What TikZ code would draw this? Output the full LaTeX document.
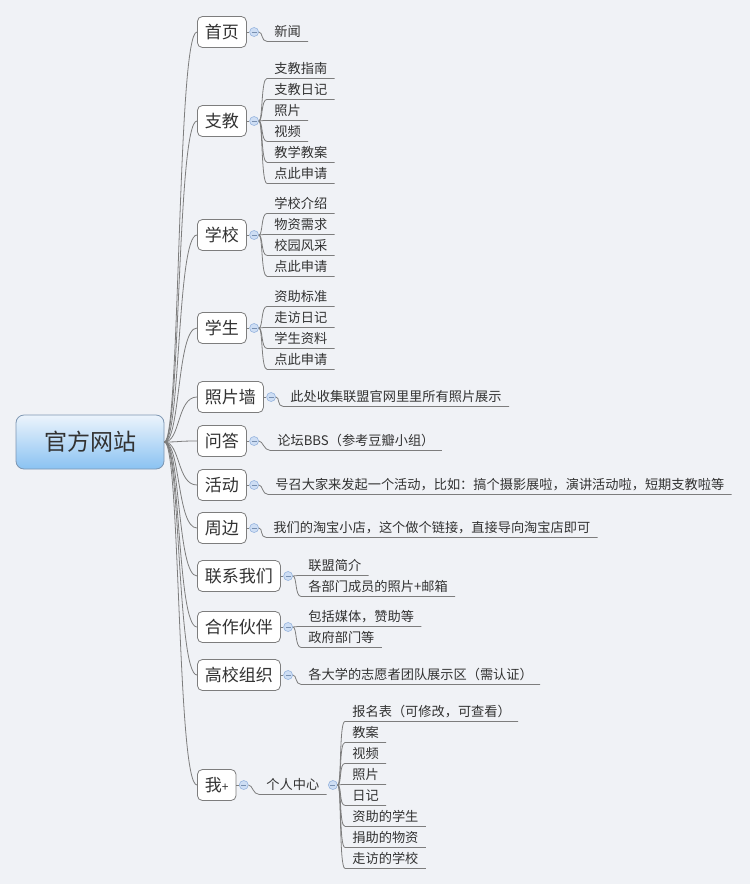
\documentclass[tikz,border=0pt]{standalone}
\usepackage{fontspec}
\setmainfont{Noto Sans CJK SC}
\usetikzlibrary{positioning,calc}

\definecolor{paper}{RGB}{240,242,246}
\definecolor{wire}{RGB}{125,125,125}
\definecolor{ink}{RGB}{50,50,50}
\definecolor{knob}{RGB}{206,222,244}
\definecolor{knobline}{RGB}{150,180,222}
\definecolor{roottop}{RGB}{236,244,252}
\definecolor{rootbot}{RGB}{138,194,242}
\definecolor{rootline}{RGB}{125,150,178}

\begin{document}
\begin{tikzpicture}[x=1pt,y=-1pt,line width=0.8pt]
   \tikzstyle{root}=[rectangle,rounded corners=8pt,draw=rootline,top color=roottop,bottom color=rootbot,minimum width=148pt,minimum height=54pt,text height=19.1pt,text depth=1.6pt,font=\fontsize{23}{23}\selectfont,text=ink]
   \tikzstyle{topic}=[rectangle,rounded corners=5pt,draw=wire,fill=white,anchor=west,minimum height=31pt,inner xsep=7.5pt,text height=14.1pt,text depth=1.1pt,font=\fontsize{17}{17}\selectfont,text=ink]
   \tikzstyle{leaf}=[anchor=west,inner xsep=7pt,inner ysep=3.15pt,text height=10.8pt,text depth=0.9pt,font=\fontsize{13.2}{13.2}\selectfont,text=ink]
   \tikzstyle{knob}=[circle,draw=knobline,fill=knob,minimum size=9pt,inner sep=0pt,line width=0.6pt,
      path picture={\draw[knobline!80!black,line width=0.6pt] ([xshift=-2.5pt]path picture bounding box.center) -- ([xshift=2.5pt]path picture bounding box.center);}]
   \tikzstyle{limb}=[draw=wire,to path={(\tikztostart.east) .. controls ($(\tikztostart.east)+(16,0)$) and ($(\tikztotarget.west)+(-20,0)$) .. (\tikztotarget.west)}]
   \tikzstyle{twig}=[draw=wire,to path={(\tikztostart.east) .. controls ($(\tikztostart.east)+(4,0)$) and ($(\tikztotarget.south west)+(-6,0)$) .. (\tikztotarget.south west) -- (\tikztotarget.south east)}]
   \tikzstyle{stub}=[draw=wire,line width=0.6pt]

   \fill[paper] (0,0) rectangle (750,884);
   \useasboundingbox (0,0) rectangle (750,884);

   \node[root] (guanwang) at (90,442) {官方网站};

   \node[topic] (shouye)   at (197,32)  {首页};
   \node[topic] (zhijiao)  at (197,121) {支教};
   \node[topic] (xuexiao)  at (197,235) {学校};
   \node[topic] (xuesheng) at (197,328) {学生};
   \node[topic] (zpq)      at (197,397) {照片墙};
   \node[topic] (wenda)    at (197,441) {问答};
   \node[topic] (huodong)  at (197,485) {活动};
   \node[topic] (zhoubian) at (197,528) {周边};
   \node[topic] (lianxi)   at (197,576) {联系我们};
   \node[topic] (hezuo)    at (197,627) {合作伙伴};
   \node[topic] (gaoxiao)  at (197,675) {高校组织};
   \node[topic] (wo)       at (197,785) {我{\fontsize{12}{12}\selectfont+}};

   \node[knob,right=2.5pt of shouye]   (k-shouye)   {};
   \node[knob,right=2.5pt of zhijiao]  (k-zhijiao)  {};
   \node[knob,right=2.5pt of xuexiao]  (k-xuexiao)  {};
   \node[knob,right=2.5pt of xuesheng] (k-xuesheng) {};
   \node[knob,right=2.5pt of zpq]      (k-zpq)      {};
   \node[knob,right=2.5pt of wenda]    (k-wenda)    {};
   \node[knob,right=2.5pt of huodong]  (k-huodong)  {};
   \node[knob,right=2.5pt of zhoubian] (k-zhoubian) {};
   \node[knob,right=2.5pt of lianxi]   (k-lianxi)   {};
   \node[knob,right=2.5pt of hezuo]    (k-hezuo)    {};
   \node[knob,right=2.5pt of gaoxiao]  (k-gaoxiao)  {};
   \node[knob,right=2.5pt of wo]       (k-wo)       {};

   % leaves
   \node[leaf] (xinwen) at (267,32) {新闻};

   \node[leaf] (zj1) at (267,69)  {支教指南};
   \node[leaf] (zj2) at (267,90)  {支教日记};
   \node[leaf] (zj3) at (267,111) {照片};
   \node[leaf] (zj4) at (267,132) {视频};
   \node[leaf] (zj5) at (267,153) {教学教案};
   \node[leaf] (zj6) at (267,174) {点此申请};

   \node[leaf] (xx1) at (267,204) {学校介绍};
   \node[leaf] (xx2) at (267,225) {物资需求};
   \node[leaf] (xx3) at (267,246) {校园风采};
   \node[leaf] (xx4) at (267,267) {点此申请};

   \node[leaf] (xs1) at (267,297) {资助标准};
   \node[leaf] (xs2) at (267,318) {走访日记};
   \node[leaf] (xs3) at (267,339) {学生资料};
   \node[leaf] (xs4) at (267,360) {点此申请};

   \node[leaf] (zpq1) at (283,397) {此处收集联盟官网里里所有照片展示};
   \node[leaf] (wd1)  at (270,441) {论坛BBS（参考豆瓣小组）};
   \node[leaf] (hd1)  at (268,485) {号召大家来发起一个活动，比如：搞个摄影展啦，演讲活动啦，短期支教啦等};
   \node[leaf] (zb1)  at (266,528) {我们的淘宝小店，这个做个链接，直接导向淘宝店即可};

   \node[leaf] (lx1) at (301,566) {联盟简介};
   \node[leaf] (lx2) at (301,587) {各部门成员的照片+邮箱};
   \node[leaf] (hz1) at (301,617) {包括媒体，赞助等};
   \node[leaf] (hz2) at (301,638) {政府部门等};
   \node[leaf] (gx1) at (301,675) {各大学的志愿者团队展示区（需认证）};

   \node[leaf] (geren) at (259,785) {个人中心};
   \node[knob,right=1.5pt of geren] (k-geren) {};
   \node[leaf] (gr1) at (345,712) {报名表（可修改，可查看）};
   \node[leaf] (gr2) at (345,733) {教案};
   \node[leaf] (gr3) at (345,754) {视频};
   \node[leaf] (gr4) at (345,775) {照片};
   \node[leaf] (gr5) at (345,796) {日记};
   \node[leaf] (gr6) at (345,817) {资助的学生};
   \node[leaf] (gr7) at (345,838) {捐助的物资};
   \node[leaf] (gr8) at (345,859) {走访的学校};

   \path
     (guanwang) edge [limb] (shouye)
     (guanwang) edge [limb] (zhijiao)
     (guanwang) edge [limb] (xuexiao)
     (guanwang) edge [limb] (xuesheng)
     (guanwang) edge [limb] (zpq)
     (guanwang) edge [limb] (wenda)
     (guanwang) edge [limb] (huodong)
     (guanwang) edge [limb] (zhoubian)
     (guanwang) edge [limb] (lianxi)
     (guanwang) edge [limb] (hezuo)
     (guanwang) edge [limb] (gaoxiao)
     (guanwang) edge [limb] (wo);

   \path
     (shouye) edge [stub] (k-shouye)
     (zhijiao) edge [stub] (k-zhijiao)
     (xuexiao) edge [stub] (k-xuexiao)
     (xuesheng) edge [stub] (k-xuesheng)
     (zpq) edge [stub] (k-zpq)
     (wenda) edge [stub] (k-wenda)
     (huodong) edge [stub] (k-huodong)
     (zhoubian) edge [stub] (k-zhoubian)
     (lianxi) edge [stub] (k-lianxi)
     (hezuo) edge [stub] (k-hezuo)
     (gaoxiao) edge [stub] (k-gaoxiao)
     (wo) edge [stub] (k-wo);

   \path
     (k-shouye) edge [twig] (xinwen)
     (k-zhijiao) edge [twig] (zj1)
     (k-zhijiao) edge [twig] (zj2)
     (k-zhijiao) edge [twig] (zj3)
     (k-zhijiao) edge [twig] (zj4)
     (k-zhijiao) edge [twig] (zj5)
     (k-zhijiao) edge [twig] (zj6)
     (k-xuexiao) edge [twig] (xx1)
     (k-xuexiao) edge [twig] (xx2)
     (k-xuexiao) edge [twig] (xx3)
     (k-xuexiao) edge [twig] (xx4)
     (k-xuesheng) edge [twig] (xs1)
     (k-xuesheng) edge [twig] (xs2)
     (k-xuesheng) edge [twig] (xs3)
     (k-xuesheng) edge [twig] (xs4)
     (k-zpq) edge [twig] (zpq1)
     (k-wenda) edge [twig] (wd1)
     (k-huodong) edge [twig] (hd1)
     (k-zhoubian) edge [twig] (zb1)
     (k-lianxi) edge [twig] (lx1)
     (k-lianxi) edge [twig] (lx2)
     (k-hezuo) edge [twig] (hz1)
     (k-hezuo) edge [twig] (hz2)
     (k-gaoxiao) edge [twig] (gx1)
     (k-wo) edge [twig] (geren)
     (k-geren) edge [twig] (gr1)
     (k-geren) edge [twig] (gr2)
     (k-geren) edge [twig] (gr3)
     (k-geren) edge [twig] (gr4)
     (k-geren) edge [twig] (gr5)
     (k-geren) edge [twig] (gr6)
     (k-geren) edge [twig] (gr7)
     (k-geren) edge [twig] (gr8);
\end{tikzpicture}
\end{document}
